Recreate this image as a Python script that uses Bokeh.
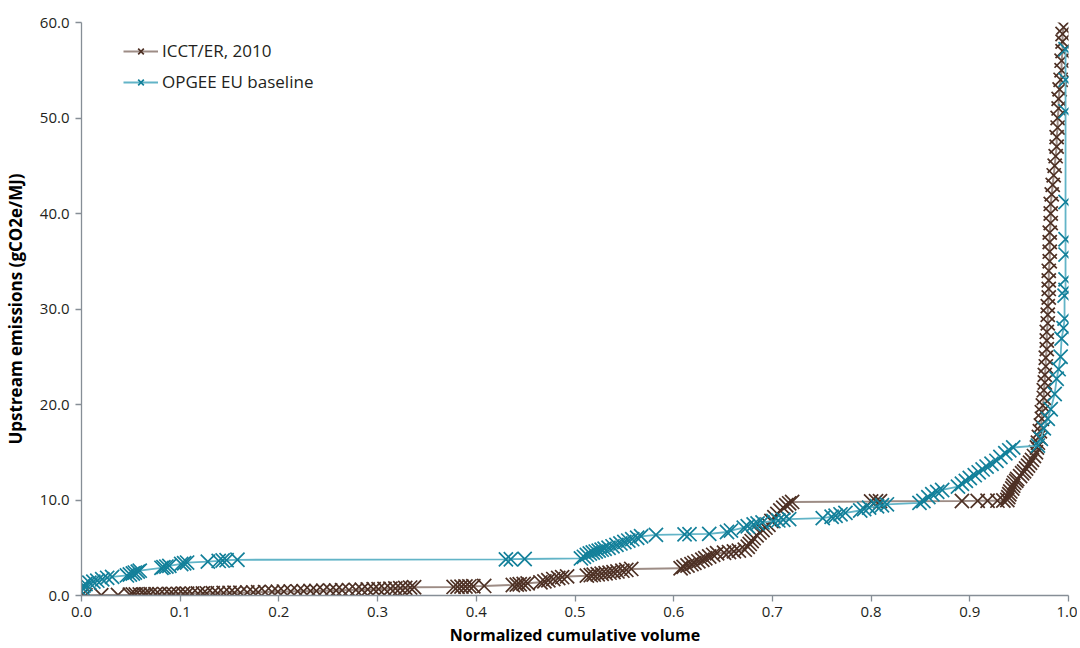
from bokeh.plotting import figure
from bokeh.models import Range1d, FixedTicker, NumeralTickFormatter, Legend, LegendItem
from bokeh.embed import file_html
from bokeh.resources import INLINE

# ---------------- data ----------------
x_ticks = [0.0, 0.1, 0.2, 0.3, 0.4, 0.5, 0.6, 0.7, 0.8, 0.9, 1.0]
y_ticks = [0, 10, 20, 30, 40, 50, 60]

icct_label = "ICCT/ER, 2010"
icct_x = [
    0.000, 0.004, 0.020, 0.037, 0.049,
    0.052, 0.055, 0.059, 0.063, 0.066, 0.070, 0.075, 0.079, 0.084, 0.089,
    0.093, 0.098, 0.103, 0.107, 0.112, 0.118, 0.123, 0.127, 0.133, 0.138,
    0.144, 0.150, 0.155, 0.161, 0.168, 0.174, 0.179, 0.186, 0.193, 0.199,
    0.205, 0.212, 0.219, 0.225, 0.232, 0.238, 0.245, 0.252, 0.258, 0.264,
    0.271, 0.278, 0.284, 0.290, 0.296, 0.301, 0.307, 0.313, 0.318, 0.323,
    0.328, 0.333, 0.337,
    0.377, 0.381, 0.385, 0.389, 0.393, 0.397, 0.408,
    0.437, 0.441, 0.444, 0.448, 0.452,
    0.465, 0.469, 0.473, 0.478, 0.483, 0.487, 0.492,
    0.512, 0.516, 0.519, 0.523, 0.527, 0.531, 0.535, 0.539, 0.543, 0.548, 0.552, 0.557,
    0.607, 0.610, 0.614, 0.618, 0.621, 0.625, 0.629, 0.632, 0.636, 0.640, 0.644,
    0.651, 0.656, 0.661, 0.666,
    0.672, 0.675, 0.677, 0.679, 0.681, 0.684, 0.687, 0.690, 0.693,
    0.696, 0.699, 0.702, 0.705, 0.708, 0.711, 0.714, 0.717, 0.720,
    0.800, 0.805, 0.809,
    0.892, 0.908, 0.918, 0.928, 0.934,
    0.938, 0.939, 0.940, 0.941, 0.943, 0.944, 0.945, 0.947, 0.948,
    0.951, 0.953, 0.955, 0.957, 0.959, 0.961, 0.963, 0.965, 0.967, 0.968, 0.969, 0.970, 0.971, 0.972,
    0.973, 0.973, 0.974, 0.975, 0.975, 0.976, 0.976, 0.977, 0.977, 0.978,
    0.978, 0.978, 0.979, 0.979, 0.979, 0.980, 0.980, 0.980, 0.980, 0.981,
    0.981, 0.981, 0.981, 0.982, 0.982, 0.982, 0.983, 0.984, 0.985, 0.986,
    0.987, 0.988, 0.988, 0.989, 0.989, 0.990, 0.990, 0.991, 0.992, 0.993,
    0.993, 0.994, 0.994, 0.994, 0.995,
]
icct_y = [
    0.00, 0.02, 0.04, 0.06, 0.08,
    0.10, 0.10, 0.11, 0.12, 0.12, 0.13, 0.14, 0.14, 0.15, 0.16,
    0.17, 0.17, 0.18, 0.19, 0.20, 0.21, 0.22, 0.23, 0.24, 0.25,
    0.27, 0.28, 0.29, 0.30, 0.32, 0.33, 0.34, 0.36, 0.38, 0.39,
    0.41, 0.42, 0.44, 0.45, 0.47, 0.48, 0.50, 0.52, 0.53, 0.55,
    0.57, 0.59, 0.61, 0.63, 0.65, 0.67, 0.69, 0.72, 0.74, 0.77,
    0.80, 0.83, 0.86,
    0.90, 0.91, 0.93, 0.94, 0.96, 0.97, 1.00,
    1.10, 1.14, 1.18, 1.22, 1.27,
    1.38, 1.48, 1.60, 1.72, 1.83, 1.92, 2.00,
    2.08, 2.13, 2.18, 2.23, 2.28, 2.33, 2.39, 2.45, 2.52, 2.60, 2.68, 2.78,
    2.85, 3.00, 3.14, 3.28, 3.42, 3.58, 3.74, 3.90, 4.08, 4.26, 4.42,
    4.48, 4.55, 4.62, 4.70,
    4.80, 5.10, 5.40, 5.70, 6.00, 6.30, 6.60, 6.85, 7.10,
    7.40, 7.80, 8.20, 8.55, 8.90, 9.20, 9.45, 9.65, 9.80,
    9.85, 9.87, 9.88,
    9.90, 9.91, 9.92, 9.93, 9.95,
    10.0, 10.3, 10.6, 10.9, 11.2, 11.5, 11.8, 12.0, 12.2,
    12.5, 12.8, 13.0, 13.3, 13.6, 13.9, 14.2, 14.6, 15.0, 15.5, 16.0, 16.6, 17.2, 17.8,
    18.5, 19.2, 19.9, 20.7, 21.5, 22.3, 23.1, 24.0, 24.9, 25.8,
    26.7, 27.6, 28.5, 29.4, 30.3, 31.2, 32.1, 33.0, 34.0, 35.0,
    36.0, 37.0, 38.0, 39.0, 40.0, 41.0, 42.0, 43.0, 44.0, 45.0,
    46.0, 47.0, 48.0, 49.0, 50.0, 51.0, 52.0, 53.0, 54.0, 55.0,
    56.0, 57.0, 58.0, 58.8, 59.5,
]

opgee_label = "OPGEE EU baseline"
opgee_x = [
    0.000, 0.001, 0.002, 0.004, 0.008, 0.012, 0.016, 0.021, 0.026, 0.031,
    0.046, 0.049, 0.052, 0.054, 0.057, 0.059, 0.081, 0.083, 0.086, 0.089,
    0.101, 0.104, 0.107, 0.128, 0.139, 0.143, 0.147, 0.158, 0.430, 0.435,
    0.449,
    0.506, 0.509, 0.512, 0.515, 0.518, 0.521, 0.524, 0.527, 0.530, 0.534,
    0.538, 0.542, 0.546, 0.550, 0.554, 0.558, 0.563, 0.567, 0.582, 0.611,
    0.616, 0.636, 0.654, 0.658, 0.671, 0.675, 0.681, 0.685, 0.690, 0.701,
    0.706, 0.711, 0.717, 0.751, 0.760, 0.764, 0.769, 0.774, 0.789, 0.793,
    0.798, 0.806, 0.811, 0.816,
    0.849, 0.853, 0.858, 0.862, 0.867, 0.872, 0.888, 0.892, 0.896, 0.900,
    0.905, 0.909, 0.913, 0.917, 0.922, 0.927, 0.931, 0.936, 0.940, 0.944,
    0.969, 0.972, 0.975, 0.979, 0.982, 0.986, 0.988, 0.990, 0.992, 0.993,
    0.995, 0.996, 0.996, 0.997, 0.997, 0.997, 0.997, 0.997, 0.997, 0.997,
    0.997,
]
opgee_y = [
    0.45, 0.80, 1.05, 1.20, 1.35, 1.45, 1.55, 1.70, 1.85, 1.95,
    2.10, 2.20, 2.30, 2.40, 2.50, 2.60, 2.90, 2.97, 3.03, 3.10,
    3.30, 3.38, 3.45, 3.55, 3.62, 3.66, 3.70, 3.74, 3.78, 3.80,
    3.82,
    3.88, 4.05, 4.25, 4.40, 4.50, 4.60, 4.70, 4.80, 4.90, 5.00,
    5.15, 5.30, 5.45, 5.60, 5.75, 5.90, 6.05, 6.20, 6.35, 6.40,
    6.42, 6.45, 6.65, 6.80, 7.10, 7.25, 7.45, 7.55, 7.65, 7.80,
    7.86, 7.93, 8.00, 8.10, 8.25, 8.35, 8.50, 8.65, 8.90, 9.05,
    9.20, 9.35, 9.45, 9.55,
    9.70, 9.90, 10.30, 10.60, 10.85, 11.05, 11.40, 11.70, 12.00, 12.30,
    12.60, 12.90, 13.20, 13.50, 13.80, 14.10, 14.50, 14.90, 15.20, 15.50,
    15.70, 16.40, 17.50, 18.50, 19.50, 21.10, 22.70, 23.70, 25.00, 26.90,
    28.00, 29.00, 31.40, 32.00, 33.10, 35.70, 37.30, 41.20, 50.70, 54.00,
    57.20,
]

# ---------------- styling ----------------
FONT = "Open Sans"
BROWN = "#4e3125"
BROWN_LINE = "#9d8c85"
TEAL = "#13809a"
TEAL_LINE = "#62b4c7"
AXIS_COL = "#868e96"
TEXT_COL = "#231f20"

p = figure(
    width=1077, height=648,
    x_range=Range1d(0, 1), y_range=Range1d(0, 60),
    output_backend="svg", toolbar_location=None,
    min_border_left=78, min_border_top=22, min_border_right=9, min_border_bottom=52,
    x_axis_label="Normalized cumulative volume",
    y_axis_label="Upstream emissions (gCO2e/MJ)",
)
p.outline_line_color = None
p.xgrid.visible = False
p.ygrid.visible = False
p.background_fill_color = "white"
p.border_fill_color = "white"

for ax in (p.xaxis[0], p.yaxis[0]):
    ax.axis_line_color = AXIS_COL
    ax.axis_line_width = 1.3
    ax.major_tick_line_color = AXIS_COL
    ax.major_tick_line_width = 1.3
    ax.major_tick_in = 0
    ax.major_tick_out = 6
    ax.minor_tick_line_color = None
    ax.major_label_text_font = FONT
    ax.major_label_text_font_size = "15px"
    ax.major_label_text_color = TEXT_COL
    ax.axis_label_text_font = FONT
    ax.axis_label_text_font_style = "bold"
    ax.axis_label_text_color = "#000000"
    ax.formatter = NumeralTickFormatter(format="0.0")

p.xaxis[0].axis_label_text_font_size = "16px"
p.yaxis[0].axis_label_text_font_size = "17px"
p.xaxis[0].ticker = FixedTicker(ticks=x_ticks)
p.yaxis[0].ticker = FixedTicker(ticks=y_ticks)
p.xaxis[0].major_label_standoff = 5
p.xaxis[0].axis_label_standoff = 4
p.yaxis[0].major_label_standoff = 6
p.yaxis[0].axis_label_standoff = 10

MS = 20
MW = 1.7
l1 = p.line(icct_x, icct_y, line_color=BROWN_LINE, line_width=2)
s1 = p.scatter(icct_x, icct_y, marker="x", size=MS, line_color=BROWN, line_width=MW)
l2 = p.line(opgee_x, opgee_y, line_color=TEAL_LINE, line_width=1.8)
s2 = p.scatter(opgee_x, opgee_y, marker="x", size=MS, line_color=TEAL, line_width=MW)

legend = Legend(
    items=[LegendItem(label=icct_label, renderers=[l1, s1]),
           LegendItem(label=opgee_label, renderers=[l2, s2])],
    location=(42, 502),
    padding=0, margin=0, spacing=8,
    glyph_width=35, glyph_height=20, label_height=20, label_standoff=4,
    label_text_font=FONT, label_text_font_size="17px", label_text_color=TEXT_COL,
    border_line_alpha=0, background_fill_alpha=0,
)
p.add_layout(legend)

open("out.html", "w").write(file_html(p, INLINE))
